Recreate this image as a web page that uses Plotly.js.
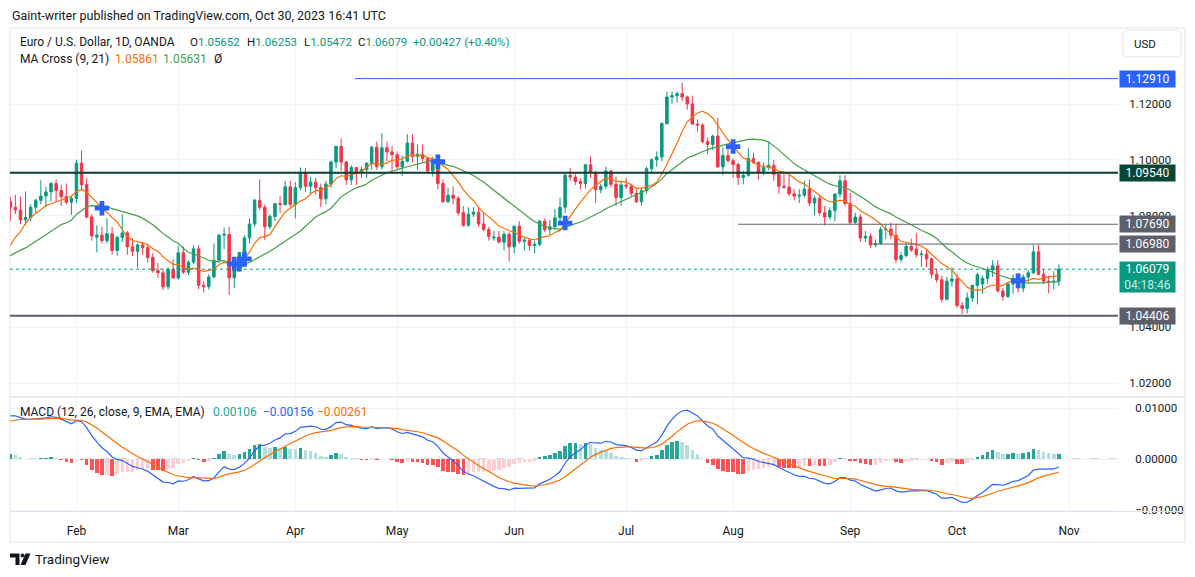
<!DOCTYPE html>
<html>
<head>
<meta charset="utf-8">
<script src="https://cdn.plot.ly/plotly-3.0.1.min.js"></script>
<style>
html,body{margin:0;padding:0;background:#ffffff;}
#chart{width:1195px;height:577px;}
</style>
</head>
<body>
<div id="chart"></div>
<script>
// ---------------- DATA (EUR/USD daily, OANDA, 13 Jan 2023 - 30 Oct 2023) ----------------
const openP = [
1.0850,1.0830,1.0820,1.0785,1.0793,1.0830,1.0855,1.0870,1.0885,1.0915,1.0890,1.0868,1.0848,
1.0862,1.0988,1.0911,1.0795,1.0723,1.0730,1.0710,1.0735,1.0675,1.0722,1.0738,1.0688,1.0672,1.0695,1.0685,1.0650,1.0603,1.0595,1.0545,1.0607,
1.0576,1.0667,1.0597,1.0633,1.0681,1.0550,1.0545,1.0580,1.0640,1.0730,1.0733,1.0577,1.0608,1.0668,1.0720,1.0770,1.0855,1.0830,1.0760,1.0797,1.0843,1.0840,1.0903,
1.0840,1.0900,1.0955,1.0905,1.0920,1.0900,1.0860,1.0913,1.0992,1.1048,1.0992,1.0928,1.0972,1.0955,1.0965,1.0988,1.1045,1.0975,1.1043,1.1028,
1.1018,1.0975,1.0995,1.1060,1.1012,1.1020,1.1005,1.0960,1.0995,1.0915,1.0850,1.0873,1.0862,1.0810,1.0765,1.0805,1.0812,1.0770,1.0750,1.0720,1.0723,1.0705,1.0733,
1.0688,1.0762,1.0708,1.0712,1.0693,1.0697,1.0780,1.0750,1.0760,1.0792,1.0830,1.0945,1.0938,1.0922,1.0915,1.0982,1.0955,1.0893,1.0905,1.0960,1.0912,1.0865,
1.0910,1.0905,1.0880,1.0850,1.0890,1.0968,1.1000,1.1010,1.1130,1.1225,1.1230,1.1237,1.1225,1.1200,1.1128,1.1125,1.1065,1.1055,1.1085,1.0975,1.1015,
1.0997,1.0983,1.0937,1.0945,1.1005,1.0990,1.0955,1.0972,1.0980,1.0948,1.0905,1.0902,1.0878,1.0870,1.0873,1.0895,1.0845,1.0862,1.0810,1.0795,1.0818,1.0877,1.0925,
1.0843,1.0775,1.0795,1.0720,1.0725,1.0695,1.0700,1.0750,1.0752,1.0730,1.0643,1.0657,1.0690,1.0680,1.0660,1.0662,1.0645,1.0590,1.0570,1.0500,1.0565,
1.0573,1.0478,1.0467,1.0505,1.0550,1.0555,1.0575,1.0605,1.0620,1.0530,1.0510,1.0555,1.0575,1.0540,1.0580,1.0595,1.0670,1.0590,1.0565,1.0562,1.05652
];
const highP = [
1.0868,1.0875,1.0868,1.0887,1.0840,1.0860,1.0927,1.0903,1.0920,1.0930,1.0910,1.0915,1.0870,
1.1000,1.1033,1.0935,1.0805,1.0765,1.0760,1.0790,1.0760,1.0727,1.0805,1.0745,1.0720,1.0700,1.0705,1.0700,1.0665,1.0630,1.0610,1.0615,1.0645,
1.0690,1.0690,1.0640,1.0695,1.0695,1.0565,1.0590,1.0700,1.0735,1.0757,1.0760,1.0630,1.0670,1.0730,1.0790,1.0860,1.0930,1.0840,1.0805,1.0845,1.0870,1.0925,1.0925,
1.0920,1.0973,1.0970,1.0940,1.0935,1.0915,1.0925,1.0998,1.1050,1.1077,1.0995,1.0980,1.0975,1.0975,1.0990,1.1050,1.1065,1.1095,1.1065,1.1050,
1.1030,1.1015,1.1092,1.1092,1.1055,1.1055,1.1010,1.1010,1.0998,1.0930,1.0900,1.0905,1.0870,1.0835,1.0830,1.0830,1.0830,1.0810,1.0760,1.0745,1.0745,1.0745,1.0740,
1.0765,1.0780,1.0720,1.0720,1.0710,1.0785,1.0790,1.0785,1.0823,1.0865,1.0950,1.0970,1.0950,1.0935,1.0985,1.1012,1.0960,1.0915,1.0975,1.0965,1.0940,1.0925,
1.0935,1.0915,1.0895,1.0900,1.0975,1.1005,1.1030,1.1135,1.1245,1.1245,1.1245,1.1276,1.1230,1.1230,1.1145,1.1130,1.1080,1.1090,1.1150,1.1045,1.1045,
1.1005,1.0990,1.0960,1.1042,1.1025,1.0995,1.0990,1.1065,1.1000,1.0950,1.0950,1.0947,1.0895,1.0895,1.0925,1.0930,1.0870,1.0875,1.0835,1.0830,1.0880,1.0945,1.0945,
1.0882,1.0810,1.0805,1.0745,1.0735,1.0715,1.0760,1.0767,1.0775,1.0770,1.0670,1.0700,1.0718,1.0737,1.0675,1.0680,1.0650,1.0610,1.0585,1.0580,1.0615,
1.0590,1.0490,1.0525,1.0550,1.0595,1.0585,1.0615,1.0640,1.0640,1.0540,1.0560,1.0590,1.0595,1.0590,1.0605,1.0695,1.0695,1.0610,1.0580,1.0600,1.06253
];
const lowP = [
1.0780,1.0805,1.0770,1.0765,1.0780,1.0810,1.0840,1.0830,1.0850,1.0850,1.0835,1.0840,1.0802,
1.0845,1.0893,1.0790,1.0710,1.0668,1.0700,1.0700,1.0660,1.0656,1.0705,1.0660,1.0655,1.0613,1.0660,1.0632,1.0595,1.0577,1.0533,1.0535,1.0575,
1.0570,1.0590,1.0587,1.0625,1.0536,1.0524,1.0535,1.0575,1.0630,1.0680,1.0516,1.0540,1.0600,1.0650,1.0700,1.0760,1.0820,1.0713,1.0750,1.0780,1.0810,1.0835,1.0830,
1.0790,1.0890,1.0885,1.0880,1.0875,1.0830,1.0840,1.0900,1.0970,1.0960,1.0910,1.0910,1.0910,1.0935,1.0935,1.0965,1.0965,1.0965,1.0995,1.0960,
1.0965,1.0942,1.0990,1.0990,1.0965,1.0990,1.0950,1.0940,1.0895,1.0845,1.0845,1.0840,1.0800,1.0760,1.0760,1.0795,1.0760,1.0745,1.0710,1.0710,1.0700,1.0675,1.0635,
1.0665,1.0700,1.0675,1.0675,1.0665,1.0690,1.0740,1.0730,1.0750,1.0770,1.0810,1.0925,1.0910,1.0895,1.0897,1.0935,1.0845,1.0880,1.0895,1.0900,1.0835,1.0835,
1.0895,1.0870,1.0845,1.0835,1.0880,1.0950,1.0975,1.0995,1.1125,1.1200,1.1205,1.1210,1.1180,1.1125,1.1100,1.1060,1.1020,1.1035,1.0970,1.0945,1.0990,
1.0935,1.0910,1.0912,1.0940,1.0985,1.0930,1.0945,1.0962,1.0925,1.0877,1.0895,1.0870,1.0855,1.0845,1.0865,1.0833,1.0802,1.0800,1.0765,1.0785,1.0780,1.0865,1.0835,
1.0770,1.0770,1.0705,1.0705,1.0685,1.0686,1.0695,1.0715,1.0715,1.0630,1.0632,1.0650,1.0670,1.0650,1.0617,1.0615,1.0575,1.0560,1.0488,1.0496,1.0545,
1.0470,1.0448,1.0450,1.0490,1.0482,1.0520,1.0555,1.0580,1.0525,1.0495,1.0505,1.0520,1.0525,1.0525,1.0560,1.0590,1.0585,1.0555,1.0522,1.0535,1.05472
];
const closeP = [
1.0830,1.0820,1.0785,1.0793,1.0830,1.0855,1.0870,1.0885,1.0915,1.0890,1.0868,1.0848,1.0862,
1.0988,1.0911,1.0795,1.0727,1.0730,1.0710,1.0735,1.0675,1.0722,1.0738,1.0688,1.0672,1.0695,1.0685,1.0650,1.0603,1.0595,1.0545,1.0607,1.0576,
1.0667,1.0597,1.0633,1.0681,1.0550,1.0545,1.0580,1.0640,1.0730,1.0733,1.0577,1.0608,1.0668,1.0720,1.0770,1.0855,1.0830,1.0760,1.0797,1.0843,1.0840,1.0903,1.0840,
1.0900,1.0955,1.0905,1.0920,1.0900,1.0860,1.0913,1.0992,1.1048,1.0992,1.0928,1.0972,1.0955,1.0965,1.0988,1.1045,1.0975,1.1043,1.1028,1.1018,
1.0975,1.0995,1.1060,1.1012,1.1020,1.1005,1.0960,1.0995,1.0915,1.0850,1.0873,1.0862,1.0810,1.0765,1.0805,1.0812,1.0770,1.0750,1.0725,1.0723,1.0705,1.0733,1.0688,
1.0762,1.0708,1.0712,1.0693,1.0697,1.0780,1.0750,1.0760,1.0792,1.0830,1.0945,1.0938,1.0922,1.0915,1.0982,1.0955,1.0893,1.0905,1.0960,1.0912,1.0865,1.0910,
1.0905,1.0880,1.0850,1.0890,1.0968,1.1000,1.1010,1.1130,1.1225,1.1230,1.1237,1.1225,1.1200,1.1128,1.1125,1.1065,1.1055,1.1085,1.0975,1.1015,1.0997,
1.0983,1.0937,1.0945,1.1005,1.0990,1.0955,1.0972,1.0980,1.0948,1.0905,1.0902,1.0878,1.0870,1.0873,1.0895,1.0845,1.0862,1.0810,1.0795,1.0818,1.0877,1.0925,1.0843,
1.0775,1.0795,1.0720,1.0725,1.0695,1.0700,1.0750,1.0752,1.0730,1.0643,1.0657,1.0690,1.0677,1.0660,1.0662,1.0645,1.0590,1.0570,1.0500,1.0565,1.0573,
1.0478,1.0467,1.0505,1.0550,1.0588,1.0575,1.0605,1.0620,1.0530,1.0510,1.0555,1.0575,1.0540,1.0580,1.0595,1.0670,1.0590,1.0565,1.0562,1.0565,1.06079
];
// closes of the 20 sessions just before the first visible bar (16 Dec 2022 - 12 Jan 2023), used only to warm up the moving averages
const warmupClose = [1.0584,1.0607,1.0625,1.0605,1.0595,1.0615,1.0635,1.0640,1.0610,1.0660,1.0705,1.0670,1.0555,1.0605,1.0520,1.0645,1.0730,1.0735,1.0760,1.0855];
// MACD state on 12 Jan 2023 (read from the left edge of the MACD pane)
const seedEma12 = 1.0722;
const seedEma26 = 1.0640;
const seedSignal = 0.0072;

const levelPrices = [1.12910, 1.09540, 1.07690, 1.06980, 1.04406];
const levelText   = ['1.12910','1.09540','1.07690','1.06980','1.04406'];
const lastPrice = 1.06079;
const priceTicks = [1.02, 1.04, 1.06, 1.08, 1.10, 1.12];
// 1.06000 sits fully behind the last-price label in the reference, so its text is left empty
const priceTickText = ['1.02000','1.04000','','1.08000','1.10000','1.12000'];
const macdTicks = [-0.01, 0, 0.01];
const macdTickText = ['\u22120.01000','0.00000','0.01000'];
const monthLabels = ['Feb','Mar','Apr','May','Jun','Jul','Aug','Sep','Oct','Nov'];
const monthNumbers = ['02','03','04','05','06','07','08','09','10','11'];

// ---------------- derived series ----------------
const N = closeP.length;
const idx = closeP.map((_, i) => i);

// trading-day calendar (weekdays) for placing the month ticks
const tradingDays = [];
(function(){
  let t = Date.UTC(2023, 0, 13);
  const end = Date.UTC(2023, 10, 30);
  while (t <= end) {
    const d = new Date(t);
    const wd = d.getUTCDay();
    if (wd !== 0 && wd !== 6) tradingDays.push(d.toISOString().slice(0, 10));
    t += 86400000;
  }
})();
const monthTickIdx = monthNumbers.map(m => tradingDays.findIndex(s => s.slice(5, 7) === m));

const allClose = warmupClose.concat(closeP);
function sma(n) {
  return closeP.map((_, i) => {
    const j = i + warmupClose.length;
    let s = 0;
    for (let k = j - n + 1; k <= j; k++) s += allClose[k];
    return s / n;
  });
}
const ma9 = sma(9);
const ma21 = sma(21);

const crossX = [], crossY = [];
for (let i = 1; i < N; i++) {
  const a = ma9[i - 1] - ma21[i - 1], b = ma9[i] - ma21[i];
  if ((a < 0 && b >= 0) || (a > 0 && b <= 0)) { crossX.push(i); crossY.push(ma9[i]); }
}

const macd = [], signal = [], hist = [];
(function(){
  let e12 = seedEma12, e26 = seedEma26, sg = seedSignal;
  closeP.forEach(c => {
    e12 += (c - e12) * 2 / 13;
    e26 += (c - e26) * 2 / 27;
    const m = e12 - e26;
    sg += (m - sg) * 2 / 10;
    macd.push(m); signal.push(sg); hist.push(m - sg);
  });
})();
const histColors = hist.map((h, i) => {
  const prev = i === 0 ? (seedEma12 - seedEma26 - seedSignal) : hist[i - 1];
  if (h >= 0) return h > prev ? '#26a69a' : '#b2dfdb';
  return h < prev ? '#ff5252' : '#ffcdd2';
});

// ---------------- layout helpers (pixel -> paper) ----------------
const W = 1195, H = 577;
const fx = p => p / W;
const fy = p => 1 - p / H;
const FONT = 'Roboto, "Open Sans", sans-serif';
const TXT = '#131722';
const BAR0 = 10.3, BARW = 5.09;           // pixel position of bar 0 and bar spacing
const PLOT_L = 10, PLOT_R = 1118;
const xRange = [(PLOT_L - BAR0) / BARW, (PLOT_R - BAR0) / BARW];

// price pane: pixel 28..396 ; 1.12 at y=104, 0.00035842 per px
const PPX = 0.00035842;
const priceRange = [1.12 - (396 - 104) * PPX, 1.12 + (104 - 28) * PPX];
// macd pane: pixel 398..511 ; 0 at y=459, 5100 px per unit
const macdRange = [-(511 - 459) / 5100, (459 - 398) / 5100];

const traces = [
  {
    type: 'candlestick', x: idx, open: openP, high: highP, low: lowP, close: closeP,
    xaxis: 'x', yaxis: 'y',
    increasing: { line: { color: '#089981', width: 1 }, fillcolor: '#089981' },
    decreasing: { line: { color: '#f23645', width: 1 }, fillcolor: '#f23645' },
    whiskerwidth: 0, hoverinfo: 'skip', showlegend: false
  },
  { type: 'scatter', mode: 'lines', x: idx, y: ma21, xaxis: 'x', yaxis: 'y',
    line: { color: '#43a047', width: 1.2 }, hoverinfo: 'skip', showlegend: false },
  { type: 'scatter', mode: 'lines', x: idx, y: ma9, xaxis: 'x', yaxis: 'y',
    line: { color: '#ff6d00', width: 1.2 }, hoverinfo: 'skip', showlegend: false },
  { type: 'scatter', mode: 'markers', x: crossX, y: crossY, xaxis: 'x', yaxis: 'y',
    marker: { symbol: 'cross', size: 12, color: '#2962ff', line: { width: 0 } },
    hoverinfo: 'skip', showlegend: false },
  { type: 'bar', x: idx, y: hist, xaxis: 'x', yaxis: 'y2', width: 0.7,
    marker: { color: histColors, line: { width: 0 } }, hoverinfo: 'skip', showlegend: false },
  { type: 'scatter', mode: 'lines', x: idx, y: macd, xaxis: 'x', yaxis: 'y2',
    line: { color: '#2962ff', width: 1.2 }, hoverinfo: 'skip', showlegend: false },
  { type: 'scatter', mode: 'lines', x: idx, y: signal, xaxis: 'x', yaxis: 'y2',
    line: { color: '#ff6d00', width: 1.2 }, hoverinfo: 'skip', showlegend: false }
];

// level line styling
const levelStyle = [
  { start: 355, color: '#2962ff', width: 1, bg: '#2962ff' },
  { start: 10,  color: '#0b3d32', width: 2, bg: '#074536' },
  { start: 738, color: '#5d606b', width: 1, bg: '#5d606b' },
  { start: 870, color: '#5d606b', width: 1, bg: '#5d606b' },
  { start: 10,  color: '#5d606b', width: 2, bg: '#5d606b' }
];

const shapes = [];
// frame
shapes.push({ type: 'rect', xref: 'paper', yref: 'paper', x0: fx(10), x1: fx(1185), y0: fy(542), y1: fy(28),
  line: { color: '#e0e3eb', width: 1 }, layer: 'below' });
// pane separator and time-axis border
shapes.push({ type: 'line', xref: 'paper', yref: 'paper', x0: fx(10), x1: fx(1185), y0: fy(397), y1: fy(397),
  line: { color: '#e0e3eb', width: 1.5 } });
shapes.push({ type: 'line', xref: 'paper', yref: 'paper', x0: fx(10), x1: fx(1185), y0: fy(511.5), y1: fy(511.5),
  line: { color: '#e0e3eb', width: 1 } });
// MACD zero line
shapes.push({ type: 'line', xref: 'paper', yref: 'y2', x0: fx(PLOT_L), x1: fx(PLOT_R), y0: 0, y1: 0,
  line: { color: '#b2b5be', width: 1, dash: 'dash' }, layer: 'below' });
// last price dotted line
shapes.push({ type: 'line', xref: 'paper', yref: 'y', x0: fx(PLOT_L), x1: fx(PLOT_R), y0: lastPrice, y1: lastPrice,
  line: { color: '#089981', width: 1, dash: 'dot' } });
// horizontal levels
levelPrices.forEach((p, i) => {
  const s = levelStyle[i];
  shapes.push({ type: 'line', xref: 'paper', yref: 'y', x0: fx(s.start), x1: fx(PLOT_R), y0: p, y1: p,
    line: { color: s.color, width: s.width } });
});
// USD box (rounded)
(function(){
  const x0 = 1123, x1 = 1181, y0 = 30, y1 = 57, r = 4;
  const P = (x, y) => fx(x) + ',' + fy(y);
  shapes.push({ type: 'path', xref: 'paper', yref: 'paper',
    path: 'M' + P(x0 + r, y0) + ' L' + P(x1 - r, y0) + ' Q' + P(x1, y0) + ' ' + P(x1, y0 + r) +
          ' L' + P(x1, y1 - r) + ' Q' + P(x1, y1) + ' ' + P(x1 - r, y1) +
          ' L' + P(x0 + r, y1) + ' Q' + P(x0, y1) + ' ' + P(x0, y1 - r) +
          ' L' + P(x0, y0 + r) + ' Q' + P(x0, y0) + ' ' + P(x0 + r, y0) + ' Z',
    line: { color: '#e0e3eb', width: 1 }, fillcolor: 'rgba(0,0,0,0)' });
})();
// TradingView logo glyph
(function(){
  const P = (x, y) => fx(x) + ',' + fy(y);
  shapes.push({ type: 'path', xref: 'paper', yref: 'paper',
    path: 'M' + P(10, 553.5) + ' L' + P(19.5, 553.5) + ' L' + P(19.5, 565) + ' L' + P(15.5, 565) +
          ' L' + P(15.5, 557.5) + ' L' + P(10, 557.5) + ' Z',
    line: { width: 0 }, fillcolor: '#131722' });
  shapes.push({ type: 'circle', xref: 'paper', yref: 'paper', x0: fx(20.5), x1: fx(24.5), y0: fy(557.5), y1: fy(553.5),
    line: { width: 0 }, fillcolor: '#131722' });
  shapes.push({ type: 'path', xref: 'paper', yref: 'paper',
    path: 'M' + P(25.5, 553.5) + ' L' + P(30.5, 553.5) + ' L' + P(25.5, 565) + ' L' + P(20.5, 565) + ' Z',
    line: { width: 0 }, fillcolor: '#131722' });
})();

const ann = [];
function txt(x, y, text, opts) {
  ann.push(Object.assign({ xref: 'paper', yref: 'paper', x: fx(x), y: fy(y), text: text,
    xanchor: 'left', yanchor: 'middle', showarrow: false,
    font: { family: FONT, size: 12, color: TXT } }, opts || {}));
}
const UP = '#089981';
const LEG = { family: FONT, size: 11.5, color: TXT };
txt(10, 15, 'Gaint-writer published on TradingView.com, Oct 30, 2023 16:41 UTC', { font: { family: FONT, size: 12.5, color: TXT } });
txt(18, 42, 'Euro / U.S. Dollar, 1D, OANDA');
txt(188, 42, 'O<span style="color:' + UP + '">1.05652</span>', { font: LEG });
txt(245, 42, 'H<span style="color:' + UP + '">1.06253</span>', { font: LEG });
txt(302, 42, 'L<span style="color:' + UP + '">1.05472</span>', { font: LEG });
txt(356, 42, 'C<span style="color:' + UP + '">1.06079</span>', { font: LEG });
txt(411, 42, '+0.00427 (+0.40%)', { font: { family: FONT, size: 11.5, color: UP } });
txt(18, 59, 'MA Cross (9, 21)');
txt(113, 59, '1.05861', { font: { family: FONT, size: 12, color: '#ff6d00' } });
txt(161, 59, '1.05631', { font: { family: FONT, size: 12, color: '#43a047' } });
txt(212, 59, '\u00d8');
txt(18, 412, 'MACD (12, 26, close, 9, EMA, EMA)');
txt(211, 412, '0.00106', { font: { family: FONT, size: 12, color: '#26a69a' } });
txt(261, 412, '\u22120.00156', { font: { family: FONT, size: 12, color: '#2962ff' } });
txt(315, 412, '\u22120.00261', { font: { family: FONT, size: 12, color: '#ff6d00' } });
txt(1132, 44, 'USD', { font: { family: FONT, size: 11.5, color: TXT } });
txt(33, 559, 'TradingView', { font: { family: FONT, size: 13.5, color: TXT } });

// price labels on the axis
levelPrices.forEach((p, i) => {
  ann.push({ xref: 'paper', yref: 'y', x: fx(1119), y: p, xanchor: 'left', yanchor: 'middle',
    text: levelText[i], showarrow: false, bgcolor: levelStyle[i].bg, width: 55, height: 16,
    borderpad: 0, align: 'center', valign: 'middle',
    font: { family: FONT, size: 12, color: '#ffffff' } });
});
ann.push({ xref: 'paper', yref: 'paper', x: fx(1119), y: fy(261), xanchor: 'left', yanchor: 'top',
  text: '1.06079<br><span style="color:#c8eee6">04:18:46</span>', showarrow: false,
  bgcolor: '#089981', width: 55, height: 30, borderpad: 0, align: 'center', valign: 'middle',
  font: { family: FONT, size: 12, color: '#ffffff' } });

const layout = {
  width: W, height: H,
  margin: { l: 0, r: 0, t: 0, b: 0, pad: 0 },
  paper_bgcolor: '#ffffff', plot_bgcolor: '#ffffff',
  showlegend: false, dragmode: false, hovermode: false,
  bargap: 0,
  xaxis: {
    type: 'linear', domain: [fx(PLOT_L), fx(PLOT_R)], range: xRange, anchor: 'y2',
    tickvals: monthTickIdx, ticktext: monthLabels,
    ticks: 'outside', ticklen: 9, tickcolor: 'rgba(0,0,0,0)',
    tickfont: { family: FONT, size: 12, color: TXT },
    showgrid: true, gridcolor: '#f0f3fa', gridwidth: 1,
    zeroline: false, showline: false, fixedrange: true,
    rangeslider: { visible: false }
  },
  yaxis: {
    domain: [fy(396), fy(28)], range: priceRange, anchor: 'x', side: 'right',
    tickvals: priceTicks, ticktext: priceTickText,
    ticks: 'outside', ticklen: 8, tickcolor: 'rgba(0,0,0,0)',
    tickfont: { family: FONT, size: 11.5, color: TXT },
    showgrid: true, gridcolor: '#f0f3fa', zeroline: false, showline: false, fixedrange: true
  },
  yaxis2: {
    domain: [fy(511), fy(398)], range: macdRange, anchor: 'x', side: 'right',
    tickvals: macdTicks, ticktext: macdTickText,
    ticks: 'outside', ticklen: 14, tickcolor: 'rgba(0,0,0,0)',
    tickfont: { family: FONT, size: 11.5, color: TXT },
    showgrid: true, gridcolor: '#f0f3fa', zeroline: false, showline: false, fixedrange: true
  },
  shapes: shapes,
  annotations: ann
};

Plotly.newPlot('chart', traces, layout, { displayModeBar: false, staticPlot: true });
</script>
</body>
</html>
